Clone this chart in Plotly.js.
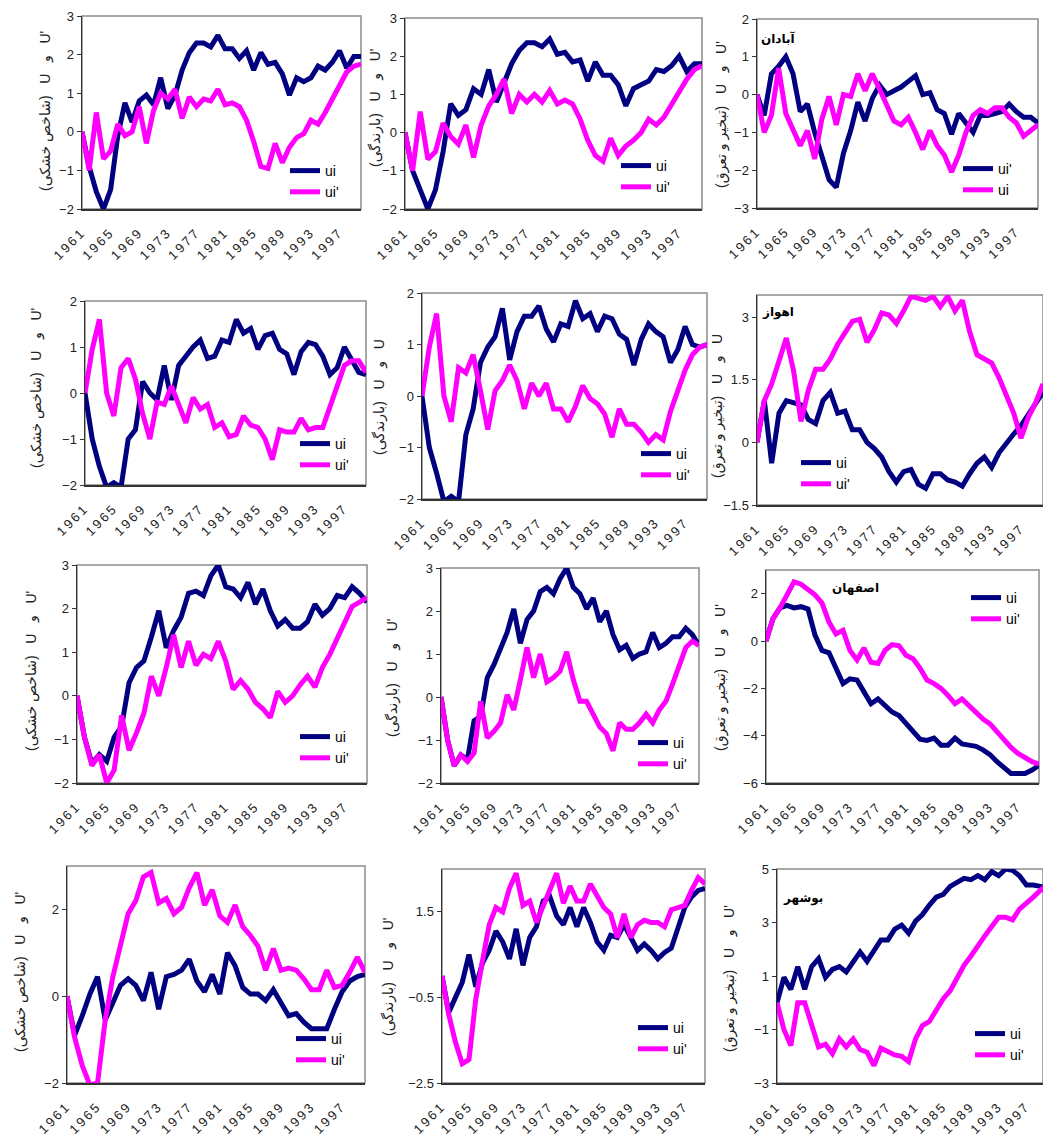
<!DOCTYPE html>
<html>
<head>
<meta charset="utf-8">
<script src="https://cdn.plot.ly/plotly-3.0.1.min.js"></script>
<style>
html,body{margin:0;padding:0;background:#fff;}
#chart{width:1043px;height:1137px;}
g[class^="x"][class$="tick"] text{letter-spacing:2.5px;}
</style>
</head>
<body>
<div id="chart"></div>
<script>
// ---------------- DATA ----------------
const years = [1961,1962,1963,1964,1965,1966,1967,1968,1969,1970,1971,1972,1973,1974,1975,1976,1977,1978,1979,1980,
               1981,1982,1983,1984,1985,1986,1987,1988,1989,1990,1991,1992,1993,1994,1995,1996,1997,1998,1999,2000];
const tickYears = [1961,1965,1969,1973,1977,1981,1985,1989,1993,1997];
const tickLabels = ["1961","1965","1969","1973","1977","1981","1985","1989","1993","1997"];

// row 1
const p1_navy = [0,-0.9,-1.55,-2.0,-1.5,-0.1,0.75,0.25,0.8,0.95,0.7,1.4,0.6,0.95,1.6,2.05,2.3,2.3,2.2,2.5,2.15,2.15,1.9,2.1,1.6,2.05,1.75,1.8,1.5,0.95,1.4,1.3,1.4,1.7,1.6,1.8,2.1,1.65,1.95,1.95];
const p1_pink = [0,-1.0,0.5,-0.7,-0.5,0.2,-0.1,0.0,0.65,-0.3,0.55,1.0,0.85,1.1,0.35,0.9,0.65,0.85,0.8,1.1,0.7,0.75,0.65,0.3,-0.25,-0.9,-0.95,-0.3,-0.8,-0.4,-0.15,-0.05,0.3,0.2,0.5,0.85,1.25,1.55,1.7,1.75];
const p2_navy = [0,-1.0,-1.5,-2.0,-1.5,-0.5,0.75,0.45,0.6,1.15,1.0,1.65,0.8,1.3,1.8,2.15,2.35,2.35,2.25,2.45,2.05,2.1,1.85,1.9,1.35,1.85,1.5,1.5,1.25,0.7,1.15,1.25,1.35,1.65,1.6,1.75,2.0,1.6,1.8,1.8];
const p2_pink = [0,-1.0,0.55,-0.7,-0.5,0.25,-0.1,-0.3,0.2,-0.65,0.2,0.7,1.0,1.4,0.5,1.0,0.8,1.0,0.8,1.1,0.75,0.85,0.75,0.35,-0.2,-0.6,-0.75,-0.15,-0.6,-0.35,-0.2,0.0,0.35,0.2,0.4,0.75,1.1,1.4,1.65,1.75];
const p3_navy = [0,-0.55,0.55,0.75,1.0,0.55,-0.45,-0.25,-1.0,-1.65,-2.25,-2.45,-1.55,-0.95,-0.2,-0.7,-0.1,0.25,0.0,0.1,0.2,0.35,0.5,0.0,0.05,-0.4,-0.5,-1.05,-0.5,-0.75,-1.0,-0.55,-0.55,-0.5,-0.45,-0.25,-0.45,-0.6,-0.6,-0.75];
const p3_pink = [0,-1.0,-0.55,0.7,-0.5,-0.9,-1.35,-0.95,-1.7,-0.65,-0.05,-0.8,0.0,-0.05,0.55,0.1,0.55,0.15,-0.3,-0.7,-0.8,-0.6,-1.0,-1.45,-0.95,-1.35,-1.6,-2.05,-1.6,-1.0,-0.55,-0.4,-0.5,-0.35,-0.35,-0.6,-0.75,-1.1,-0.95,-0.8];
// row 2
const p4_navy = [0,-1.0,-1.6,-2.05,-1.95,-2.05,-1.0,-0.8,0.25,0.0,-0.15,0.6,-0.15,0.6,0.8,1.0,1.15,0.75,0.8,1.15,1.1,1.6,1.3,1.4,0.95,1.25,1.3,0.95,0.85,0.4,0.9,1.1,1.05,0.8,0.4,0.55,1.0,0.7,0.45,0.4];
const p4_pink = [0,0.95,1.6,0.0,-0.5,0.55,0.75,0.3,-0.45,-1.0,-0.2,-0.25,0.15,-0.25,-0.65,-0.1,-0.35,-0.25,-0.75,-0.65,-0.95,-0.9,-0.5,-0.7,-0.75,-1.0,-1.45,-0.8,-0.85,-0.85,-0.55,-0.8,-0.75,-0.75,-0.3,0.15,0.6,0.7,0.7,0.45];
const p5_navy = [0,-1.0,-1.5,-2.05,-1.95,-2.05,-0.75,-0.25,0.65,0.95,1.15,1.7,0.7,1.25,1.55,1.55,1.75,1.3,1.05,1.4,1.35,1.85,1.5,1.6,1.25,1.55,1.5,1.2,1.1,0.6,1.1,1.4,1.25,1.15,0.65,0.9,1.35,1.0,0.95,1.0];
const p5_pink = [0,0.95,1.6,0.0,-0.5,0.55,0.45,0.8,0.1,-0.65,0.1,0.3,0.6,0.3,-0.25,0.25,0.0,0.25,-0.25,-0.25,-0.5,-0.2,0.2,-0.05,-0.15,-0.35,-0.8,-0.25,-0.55,-0.55,-0.7,-0.9,-0.75,-0.85,-0.3,0.1,0.5,0.8,0.95,1.0];
const p6_navy = [0,1.0,-0.5,0.7,1.0,0.95,0.9,0.55,0.45,1.0,1.2,0.7,0.75,0.3,0.3,0.0,-0.15,-0.35,-0.7,-0.95,-0.7,-0.65,-1.0,-1.1,-0.75,-0.75,-0.9,-0.95,-1.05,-0.75,-0.5,-0.35,-0.6,-0.25,0.0,0.2,0.4,0.65,0.9,1.2];
const p6_pink = [0,1.0,1.4,1.95,2.5,1.7,0.5,1.25,1.75,1.75,2.0,2.35,2.6,2.9,2.95,2.4,2.7,3.1,3.05,2.85,3.15,3.5,3.45,3.4,3.5,3.25,3.5,3.15,3.4,2.65,2.1,2.0,1.9,1.55,1.15,0.7,0.1,0.6,0.95,1.4];
// row 3
const p7_navy = [0,-0.95,-1.55,-1.35,-1.5,-0.95,-0.7,0.3,0.65,0.8,1.35,1.95,1.1,1.5,1.8,2.35,2.4,2.3,2.75,3.0,2.5,2.45,2.25,2.6,2.1,2.45,1.95,1.6,1.75,1.55,1.55,1.7,2.1,1.85,2.0,2.3,2.25,2.5,2.35,2.15];
const p7_pink = [0,-0.95,-1.6,-1.35,-2.0,-1.7,-0.45,-1.25,-0.85,-0.4,0.45,0.0,0.65,1.4,0.65,1.25,0.7,0.95,0.85,1.25,0.8,0.15,0.35,0.15,-0.15,-0.3,-0.5,0.1,-0.15,0.0,0.25,0.45,0.2,0.65,0.95,1.3,1.65,2.05,2.15,2.25];
const p8_navy = [0,-1.0,-1.6,-1.35,-1.45,-0.55,-0.45,0.45,0.75,1.1,1.5,2.05,1.25,1.8,2.0,2.45,2.55,2.4,2.75,3.0,2.55,2.4,2.05,2.3,1.75,2.0,1.45,1.1,1.2,0.9,1.0,1.05,1.5,1.15,1.25,1.4,1.4,1.6,1.45,1.2];
const p8_pink = [0,-1.0,-1.6,-1.35,-1.5,-1.3,-0.1,-0.95,-0.8,-0.6,0.05,-0.3,0.4,1.15,0.45,1.0,0.35,0.45,0.6,1.05,0.4,-0.1,-0.1,-0.4,-0.7,-0.85,-1.25,-0.6,-0.75,-0.75,-0.6,-0.4,-0.6,-0.3,-0.1,0.3,0.7,1.15,1.3,1.2];
const p9_navy = [0,0.95,1.4,1.5,1.4,1.45,1.35,0.25,-0.4,-0.5,-1.15,-1.8,-1.6,-1.65,-2.15,-2.65,-2.45,-2.75,-3.0,-3.15,-3.5,-3.85,-4.15,-4.2,-4.1,-4.4,-4.4,-4.1,-4.35,-4.4,-4.45,-4.6,-4.8,-5.1,-5.35,-5.6,-5.6,-5.6,-5.45,-5.25];
const p9_pink = [0,0.95,1.4,2.0,2.5,2.4,2.2,1.95,1.6,0.8,0.3,0.45,-0.4,-0.8,-0.3,-0.9,-0.95,-0.4,-0.15,-0.2,-0.6,-0.75,-1.15,-1.65,-1.8,-2.0,-2.3,-2.65,-2.45,-2.75,-3.0,-3.3,-3.5,-3.85,-4.2,-4.5,-4.75,-4.95,-5.1,-5.2];
// row 4
const p10_navy = [0,-0.9,-0.45,0.05,0.45,-0.55,-0.15,0.25,0.4,0.25,-0.1,0.55,-0.3,0.45,0.5,0.6,0.85,0.35,0.1,0.5,0.05,1.0,0.7,0.2,0.05,0.05,-0.1,0.15,-0.15,-0.45,-0.4,-0.6,-0.75,-0.75,-0.75,-0.3,0.1,0.35,0.45,0.5];
const p10_pink = [0,-0.95,-1.6,-2.05,-2.0,-0.55,0.45,1.2,1.9,2.2,2.75,2.85,2.15,2.25,1.9,2.05,2.5,2.85,2.1,2.45,1.85,1.7,2.1,1.6,1.4,1.15,0.6,1.1,0.6,0.65,0.6,0.4,0.15,0.15,0.6,0.2,0.25,0.55,0.9,0.55];
const p11_navy = [0,-0.85,-0.5,-0.15,0.5,-0.25,0.3,0.6,1.05,0.8,0.4,1.1,0.25,0.9,1.15,1.75,1.85,1.4,1.2,1.6,1.15,1.6,1.25,0.8,0.6,0.95,0.9,1.2,0.9,0.6,0.75,0.6,0.4,0.55,0.65,1.15,1.6,1.85,2.0,2.05];
const p11_pink = [0,-0.9,-1.55,-2.05,-1.95,-0.55,0.35,1.2,1.6,1.5,2.05,2.4,1.65,1.75,1.25,1.65,2.05,2.4,1.7,2.1,1.75,1.75,2.15,1.85,1.6,1.45,0.9,1.45,0.9,1.2,1.3,1.25,1.25,1.15,1.55,1.6,1.65,2.0,2.3,2.15];
const p12_navy = [0,0.95,0.5,1.35,0.5,1.35,1.65,0.95,1.25,1.35,1.15,1.5,1.9,1.55,1.95,2.35,2.35,2.75,2.9,2.6,3.05,3.3,3.65,3.95,4.05,4.35,4.5,4.65,4.6,4.75,4.6,4.9,4.75,5.0,4.95,4.75,4.4,4.4,4.35,4.3];
const p12_pink = [0,-1.0,-1.6,0.0,0.0,-0.9,-1.65,-1.55,-1.9,-1.35,-1.65,-1.35,-1.75,-1.85,-2.35,-1.7,-1.85,-1.95,-2.0,-2.2,-1.35,-0.85,-0.7,-0.25,0.15,0.45,0.95,1.4,1.75,2.15,2.5,2.85,3.2,3.2,3.1,3.5,3.7,3.95,4.2,4.4];

const navySeries = [p1_navy,p2_navy,p3_navy,p4_navy,p5_navy,p6_navy,p7_navy,p8_navy,p9_navy,p10_navy,p11_navy,p12_navy];
const pinkSeries = [p1_pink,p2_pink,p3_pink,p4_pink,p5_pink,p6_pink,p7_pink,p8_pink,p9_pink,p10_pink,p11_pink,p12_pink];
const navyNames = ["ui","ui","ui'","ui","ui","ui","ui","ui","ui","ui","ui","ui"];
const pinkNames = ["ui'","ui'","ui","ui'","ui'","ui'","ui'","ui'","ui'","ui'","ui'","ui'"];

const cityNames = ["","","آبادان","","","اهواز","","","اصفهان","","","بوشهر"];
const sp = "\u00a0\u00a0\u00a0";
const qAridity = "(شاخص خشکی)", qRain = "(بارندگی)", qEvap = "(تبخیر و تعرق)";
const yTitles = [
  qAridity+sp+"U"+sp+"و"+sp+"U'", qRain+sp+"U"+sp+"و"+sp+"U'", qEvap+sp+"U"+sp+"و"+sp+"U'",
  qAridity+sp+"U"+sp+"و"+sp+"U'", qRain+sp+"U"+sp+"و"+sp+"U",  qEvap+sp+"U"+sp+"و"+sp+"U",
  qAridity+sp+"U"+sp+"و"+sp+"U'", qRain+sp+"U"+sp+"و"+sp+"U'", qEvap+sp+"U"+sp+"و"+sp+"U'",
  qAridity+sp+"U"+sp+"و"+sp+"U'", qRain+sp+"U"+sp+"و"+sp+"U'", qEvap+sp+"U"+sp+"و"+sp+"U'"
];
const yTickSets = [
  [-2,-1,0,1,2,3],[-2,-1,0,1,2,3],[-3,-2,-1,0,1,2],
  [-2,-1,0,1,2],[-2,-1,0,1,2],[-1.5,0,1.5,3],
  [-2,-1,0,1,2,3],[-2,-1,0,1,2,3],[-6,-4,-2,0,2],
  [-2,0,2],[-2.5,-0.5,1.5],[-3,-1,1,3,5]
];

// ---------------- LAYOUT CONFIG (pixels) ----------------
const W = 1043, H = 1137;
const rects = [ // left, right, top, bottom of each plot area
  [82,361,16,209],[405,702,18,209],[757,1038,19,208],
  [85,366,301,485],[422,707,293,499],[757,1043,295,505],
  [77,367,565,783],[441,699,568,783],[766,1039,570,783],
  [67,365,866,1083],[442,705,869,1083],[777,1043,869,1083]
];
const yRanges = [[-2,3],[-2,3],[-3,2],[-2,2],[-2,2],[-1.5,3.53],[-2,3],[-2,3],[-6,3],[-2,3],[-2.5,2.5],[-3,5]];
const xMax = [2000,2000,2000,2000,2000,2000,2000,2000,2000,2000,2000,1999.4];
const yTitlePos = [[45,111],[375,108],[722,115],[36,388],[379,397],[717,406],[31,671],[392,678],[720,678],[20,972],[388,977],[729,979]];
const cityPos = [null,null,[778,38],null,null,[778,312],null,null,[855,588],null,null,[803,898]];
const legendPos = [ // line start x, first item centre y, gap
  [282,170,0],[613,165,0],[955,168,0],[292,443,0],[633,453,0],[793,462,0],
  [292,736,0],[630,742,0],[963,597,0],[288,1038,0],[630,1027,7],[967,1033,7]
];

const FONT = 'Arial, "Liberation Sans", "DejaVu Sans", sans-serif';
const NAVY = '#000080', PINK = '#FF00FF';

const traces = [];
const layout = {
  width: W, height: H,
  margin: {l:0, r:0, t:0, b:0},
  paper_bgcolor: '#fff', plot_bgcolor: '#fff',
  font: {family: FONT, size: 12, color: '#000'},
  shapes: [], annotations: []
};

for (let i = 0; i < 12; i++) {
  const s = i === 0 ? '' : String(i + 1);
  const [L, R, T, B] = rects[i];
  const legName = i === 0 ? 'legend' : 'legend' + (i + 1);
  layout['xaxis' + s] = {
    domain: [L / W, R / W], range: [1961, xMax[i]], anchor: 'y' + s,
    tickmode: 'array', tickvals: tickYears, ticktext: tickLabels, tickangle: -45,
    showgrid: false, zeroline: false, showline: true, linecolor: '#333', linewidth: 1.5,
    ticks: '', ticklabelstandoff: 9, tickfont: {size: 13, color: '#222', family: FONT}, fixedrange: true
  };
  layout['yaxis' + s] = {
    domain: [(H - B) / H, (H - T) / H], range: yRanges[i], anchor: 'x' + s,
    tickmode: 'array', tickvals: yTickSets[i],
    showgrid: false, zeroline: false, showline: true, linecolor: '#333', linewidth: 1.5,
    ticks: 'outside', ticklen: 4, tickcolor: '#333', tickwidth: 1,
    tickfont: {size: 13, color: '#222', family: FONT}, fixedrange: true
  };
  layout.shapes.push({
    type: 'rect', xref: 'x' + s + ' domain', yref: 'y' + s + ' domain',
    x0: 0, x1: 1, y0: 0, y1: 1, line: {color: '#8c8c8c', width: 1.5}, layer: 'below'
  });
  traces.push({
    x: years, y: navySeries[i], xaxis: 'x' + s, yaxis: 'y' + s, mode: 'lines',
    line: {color: NAVY, width: 5}, name: navyNames[i], legend: legName, legendgroup: 'n' + i
  });
  traces.push({
    x: years, y: pinkSeries[i], xaxis: 'x' + s, yaxis: 'y' + s, mode: 'lines',
    line: {color: PINK, width: 5}, name: pinkNames[i], legend: legName, legendgroup: 'p' + i
  });
  const [lx, ly, gap] = legendPos[i];
  layout[legName] = {
    x: (lx + 3) / W, y: (H - (ly - 15)) / H, xanchor: 'left', yanchor: 'top',
    bgcolor: 'rgba(255,255,255,0)', borderwidth: 0, font: {size: 14, color: '#000', family: FONT},
    tracegroupgap: gap, traceorder: 'normal', itemclick: false, itemdoubleclick: false
  };
  const [tx, ty] = yTitlePos[i];
  layout.annotations.push({
    text: yTitles[i], xref: 'paper', yref: 'paper', x: tx / W, y: (H - ty) / H,
    xanchor: 'center', yanchor: 'middle', textangle: -90, showarrow: false,
    font: {size: 14, color: '#222', family: FONT}
  });
  if (cityPos[i]) {
    layout.annotations.push({
      text: '<b>' + cityNames[i] + '</b>', xref: 'paper', yref: 'paper',
      x: cityPos[i][0] / W, y: (H - cityPos[i][1]) / H, xanchor: 'center', yanchor: 'middle',
      showarrow: false, font: {size: 12, color: '#000', family: FONT}
    });
  }
}

Plotly.newPlot('chart', traces, layout, {staticPlot: true, displayModeBar: false});
</script>
</body>
</html>
